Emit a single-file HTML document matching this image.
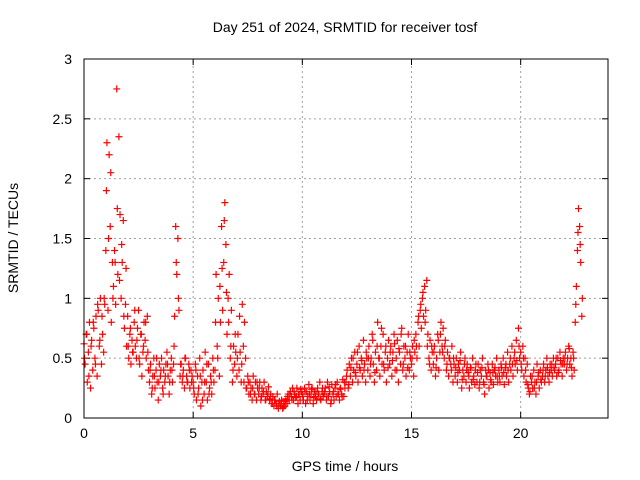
<!DOCTYPE html>
<html><head><meta charset="utf-8"><style>
body{margin:0;background:#fff;}
svg{display:block;font-family:"Liberation Sans",sans-serif;}
</style></head><body>
<svg id="chart" width="640" height="480">
<text x="345" y="32" font-size="14" text-anchor="middle">Day 251 of 2024, SRMTID for receiver tosf</text>
<text x="345" y="471" font-size="14" text-anchor="middle">GPS time / hours</text>
<text transform="translate(18,238) rotate(-90)" font-size="14" text-anchor="middle">SRMTID / TECUs</text>
<g id="grid"></g><g id="ticks"></g><g id="marks"></g>
<rect x="84" y="59" width="524" height="359" fill="none" stroke="#000"/>
</svg>
<script>
const xTicks=[0,5,10,15,20];
const yTicks=[0,0.5,1,1.5,2,2.5,3];
const yTickLabels=["0","0.5","1","1.5","2","2.5","3"];
const step=0.05;
const values=[
0.62,0.45,0.7,0.3,0.55,0.8,0.25,0.65,0.4,0.75,0.5,0.85,0.35,0.9,0.6,1.0,0.45,0.7,0.55,0.95,
1.4,2.3,0.9,2.2,1.6,0.8,1.3,1.1,1.4,0.95,2.75,1.2,2.35,1.7,1.0,1.3,1.65,0.75,0.95,0.6,
0.85,0.5,0.7,0.45,0.65,0.55,0.8,0.6,0.5,0.75,0.9,0.45,0.7,0.35,0.55,0.8,0.65,0.5,0.85,0.4,
0.3,0.45,0.2,0.35,0.5,0.25,0.4,0.3,0.15,0.45,0.35,0.5,0.25,0.4,0.3,0.45,0.55,0.35,0.2,0.4,
0.5,0.3,0.45,0.85,1.6,1.2,1.5,0.9,0.35,0.45,0.3,0.4,0.25,0.5,0.35,0.3,0.45,0.25,0.4,0.35,
0.3,0.2,0.45,0.15,0.35,0.25,0.5,0.1,0.3,0.4,0.2,0.55,0.3,0.15,0.45,0.25,0.35,0.2,0.5,0.3,
0.4,1.2,0.6,1.0,0.35,0.8,1.6,0.9,1.3,1.8,1.45,0.7,1.0,1.2,0.5,0.9,0.3,0.6,0.45,0.55,
0.35,0.7,0.4,0.55,0.3,0.95,0.6,0.8,0.5,0.25,0.35,0.2,0.3,0.25,0.15,0.35,0.2,0.3,0.15,0.25,
0.2,0.3,0.15,0.25,0.2,0.3,0.15,0.22,0.18,0.26,0.15,0.2,0.12,0.18,0.1,0.15,0.12,0.2,0.08,0.14,
0.1,0.15,0.08,0.12,0.1,0.16,0.12,0.2,0.15,0.22,0.18,0.25,0.15,0.2,0.17,0.25,0.12,0.2,0.15,0.22,
0.2,0.15,0.25,0.12,0.22,0.18,0.28,0.15,0.2,0.25,0.12,0.22,0.18,0.15,0.25,0.2,0.3,0.15,0.22,0.18,
0.2,0.25,0.15,0.3,0.18,0.22,0.12,0.28,0.2,0.15,0.25,0.18,0.3,0.2,0.15,0.25,0.2,0.32,0.18,0.25,
0.3,0.4,0.25,0.45,0.35,0.5,0.3,0.4,0.55,0.35,0.45,0.3,0.6,0.4,0.5,0.35,0.65,0.45,0.3,0.5,
0.4,0.6,0.35,0.5,0.7,0.45,0.3,0.55,0.4,0.8,0.5,0.35,0.6,0.45,0.7,0.4,0.55,0.3,0.5,0.65,
0.45,0.6,0.35,0.55,0.7,0.4,0.5,0.65,0.3,0.55,0.45,0.75,0.4,0.6,0.5,0.35,0.55,0.7,0.4,0.5,
0.45,0.6,0.35,0.55,0.7,0.5,0.8,0.6,0.9,0.75,1.0,0.85,1.1,0.9,1.15,0.7,0.5,0.65,0.4,0.55,
0.45,0.6,0.35,0.5,0.7,0.4,0.55,0.8,0.6,0.75,0.5,0.65,0.4,0.55,0.35,0.5,0.45,0.6,0.3,0.45,
0.35,0.5,0.3,0.45,0.4,0.55,0.25,0.4,0.35,0.5,0.3,0.45,0.38,0.25,0.42,0.3,0.5,0.35,0.28,0.45,
0.3,0.45,0.25,0.4,0.35,0.5,0.3,0.2,0.4,0.35,0.45,0.25,0.38,0.3,0.45,0.28,0.4,0.35,0.5,0.3,
0.4,0.3,0.45,0.35,0.5,0.28,0.42,0.35,0.55,0.3,0.45,0.4,0.6,0.35,0.5,0.45,0.65,0.4,0.75,0.5,
0.55,0.4,0.6,0.35,0.5,0.3,0.45,0.25,0.2,0.35,0.3,0.25,0.4,0.3,0.2,0.45,0.35,0.25,0.4,0.3,
0.35,0.45,0.3,0.4,0.5,0.35,0.3,0.45,0.4,0.35,0.5,0.4,0.45,0.35,0.5,0.4,0.55,0.45,0.35,0.5,
0.45,0.55,0.4,0.5,0.6,0.45,0.5,0.35,0.55,0.4,0.8,1.1,1.4,1.75,1.6,1.3,0.85
];
const step2=0.1;
const offset2=0.025;
const values2=[
0.5,0.7,0.35,0.6,0.8,0.45,0.95,0.65,0.85,1.0,
1.9,1.5,2.05,1.0,1.3,1.75,1.15,1.45,0.85,1.25,
0.6,0.75,0.55,0.9,0.65,0.5,0.7,0.6,0.8,0.55,
0.4,0.25,0.35,0.5,0.3,0.4,0.2,0.35,0.45,0.3,
0.4,0.6,1.3,1.0,0.45,0.35,0.5,0.3,0.4,0.3,
0.25,0.4,0.2,0.35,0.15,0.3,0.45,0.2,0.3,0.4,
0.8,0.5,1.1,1.25,1.65,1.05,0.8,0.6,0.4,0.7,
0.5,0.85,0.45,0.3,0.25,0.3,0.2,0.25,0.2,0.3,
0.25,0.18,0.22,0.15,0.2,0.16,0.12,0.15,0.1,0.12,
0.12,0.09,0.14,0.18,0.2,0.15,0.22,0.18,0.2,0.24,
0.18,0.22,0.15,0.2,0.24,0.17,0.22,0.2,0.16,0.25,
0.22,0.18,0.26,0.15,0.22,0.28,0.2,0.24,0.18,0.3,
0.35,0.28,0.42,0.5,0.38,0.55,0.42,0.48,0.4,0.55,
0.5,0.45,0.65,0.38,0.6,0.5,0.75,0.45,0.6,0.42,
0.55,0.48,0.62,0.4,0.58,0.7,0.45,0.6,0.42,0.55,
0.5,0.65,0.6,0.85,0.95,1.05,0.8,0.6,0.45,0.6,
0.55,0.42,0.65,0.7,0.55,0.6,0.45,0.5,0.4,0.5,
0.42,0.38,0.48,0.32,0.45,0.4,0.35,0.42,0.32,0.4,
0.38,0.3,0.42,0.28,0.35,0.4,0.32,0.38,0.42,0.35,
0.35,0.42,0.38,0.45,0.4,0.5,0.45,0.55,0.48,0.6,
0.45,0.5,0.4,0.28,0.22,0.35,0.25,0.3,0.38,0.32,
0.4,0.35,0.42,0.38,0.45,0.42,0.5,0.38,0.48,0.45,
0.5,0.45,0.58,0.42,0.5,0.95,1.55,1.45,1.0
];
const NS="http://www.w3.org/2000/svg";
const X0=84,X1=608,Y0=418,Y1=59;
function xs(v){return X0+(v/24)*(X1-X0);}
function ys(v){return Y0-(v/3)*(Y0-Y1);}
function mk(tag,attrs,parent){const e=document.createElementNS(NS,tag);for(const k in attrs)e.setAttribute(k,attrs[k]);parent.appendChild(e);return e;}
const grid=document.getElementById('grid'),ticks=document.getElementById('ticks'),marks=document.getElementById('marks');
xTicks.forEach(t=>{
  const x=xs(t);
  if(t>0){const g=mk('line',{x1:x,x2:x,y1:Y0,y2:Y1,stroke:'#a0a0a0','stroke-dasharray':'2,3'},grid);
  
  }
  const l=mk('text',{x:x,y:Y0+20,'font-size':14,'text-anchor':'middle'},ticks);l.textContent=String(t);
  
  
  mk('line',{x1:x,x2:x,y1:Y0,y2:Y0-6,stroke:'#000'},ticks);
  mk('line',{x1:x,x2:x,y1:Y1,y2:Y1+6,stroke:'#000'},ticks);
});
yTicks.forEach((t,i)=>{
  const y=ys(t);
  if(t>0&&t<3){const g=mk('line',{x1:X0,x2:X1,y1:y,y2:y,stroke:'#a0a0a0','stroke-dasharray':'2,3'},grid);
  
  }
  const l=mk('text',{x:X0-12,y:y+5,'font-size':14,'text-anchor':'end'},ticks);l.textContent=yTickLabels[i];
  
  
  mk('line',{x1:X0,x2:X0+6,y1:y,y2:y,stroke:'#000'},ticks);
  mk('line',{x1:X1,x2:X1-6,y1:y,y2:y,stroke:'#000'},ticks);
});
function plus(x,y,color){
  return mk('path',{d:`M${x-3.5},${y}h7M${x},${y-3.5}v7`,stroke:color,'stroke-width':1.2,fill:'none'},marks);
}
values2.forEach((v,i)=>{
  const p=plus(xs(offset2+i*step2),ys(v),'#ff0000');
  
  
});
values.forEach((v,i)=>{
  const p=plus(xs(i*step),ys(v),'#ff0000');
  
  
});
</script>
</body></html>
